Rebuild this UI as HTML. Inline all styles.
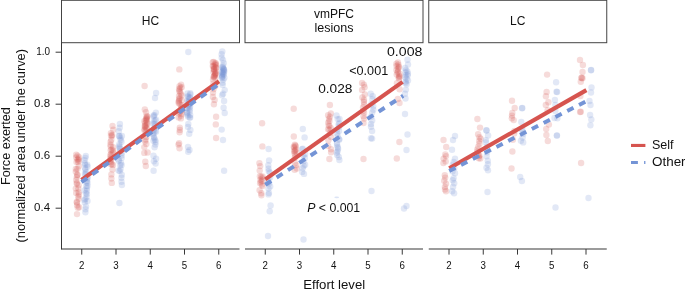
<!DOCTYPE html>
<html><head><meta charset="utf-8"><title>Effort</title>
<style>
html,body{margin:0;padding:0;background:#fff;}
body{width:685px;height:292px;overflow:hidden;}
svg{display:block;font-family:"Liberation Sans",sans-serif;}
.t{font-size:12px;fill:#111;}
.gs{filter:grayscale(1);}
.tk{font-size:10px;fill:#111;}
</style></head><body>
<svg width="685" height="292" viewBox="0 0 685 292">
<rect width="685" height="292" fill="#fff"/>
<g fill-opacity="0.21"><circle cx="112.2" cy="134.9" r="3.2" fill="#d6544f"/><circle cx="396.7" cy="74.6" r="3.2" fill="#d6544f"/><circle cx="223.9" cy="74.6" r="3.2" fill="#7494d6"/><circle cx="188.3" cy="96.9" r="3.2" fill="#7494d6"/><circle cx="181.1" cy="84.6" r="3.2" fill="#d6544f"/><circle cx="363.9" cy="84.6" r="3.2" fill="#d6544f"/><circle cx="153.7" cy="116.6" r="3.2" fill="#7494d6"/><circle cx="452.0" cy="149.8" r="3.2" fill="#7494d6"/><circle cx="121.6" cy="158.1" r="3.2" fill="#7494d6"/><circle cx="547.1" cy="74.6" r="3.2" fill="#d6544f"/><circle cx="477.4" cy="119.0" r="3.2" fill="#d6544f"/><circle cx="155.1" cy="131.1" r="3.2" fill="#7494d6"/><circle cx="330.8" cy="113.5" r="3.2" fill="#d6544f"/><circle cx="179.8" cy="104.1" r="3.2" fill="#d6544f"/><circle cx="224.2" cy="71.9" r="3.2" fill="#7494d6"/><circle cx="86.9" cy="194.1" r="3.2" fill="#7494d6"/><circle cx="120.6" cy="169.0" r="3.2" fill="#7494d6"/><circle cx="588.5" cy="198.0" r="3.2" fill="#7494d6"/><circle cx="581.1" cy="163.0" r="3.2" fill="#d6544f"/><circle cx="221.7" cy="129.6" r="3.2" fill="#7494d6"/><circle cx="221.8" cy="71.8" r="3.2" fill="#7494d6"/><circle cx="146.2" cy="136.9" r="3.2" fill="#d6544f"/><circle cx="405.0" cy="93.8" r="3.2" fill="#7494d6"/><circle cx="188.0" cy="127.0" r="3.2" fill="#7494d6"/><circle cx="87.6" cy="176.8" r="3.2" fill="#7494d6"/><circle cx="145.3" cy="125.7" r="3.2" fill="#d6544f"/><circle cx="111.3" cy="139.8" r="3.2" fill="#d6544f"/><circle cx="304.6" cy="137.4" r="3.2" fill="#7494d6"/><circle cx="407.5" cy="59.8" r="3.2" fill="#7494d6"/><circle cx="215.3" cy="63.0" r="3.2" fill="#d6544f"/><circle cx="293.7" cy="108.7" r="3.2" fill="#d6544f"/><circle cx="212.8" cy="65.9" r="3.2" fill="#d6544f"/><circle cx="212.9" cy="97.0" r="3.2" fill="#d6544f"/><circle cx="215.9" cy="71.2" r="3.2" fill="#d6544f"/><circle cx="189.2" cy="133.7" r="3.2" fill="#7494d6"/><circle cx="179.3" cy="69.4" r="3.2" fill="#d6544f"/><circle cx="514.7" cy="108.0" r="3.2" fill="#d6544f"/><circle cx="405.3" cy="77.3" r="3.2" fill="#7494d6"/><circle cx="78.8" cy="166.3" r="3.2" fill="#d6544f"/><circle cx="446.0" cy="191.3" r="3.2" fill="#d6544f"/><circle cx="179.8" cy="97.9" r="3.2" fill="#d6544f"/><circle cx="224.7" cy="90.1" r="3.2" fill="#7494d6"/><circle cx="221.9" cy="77.7" r="3.2" fill="#7494d6"/><circle cx="147.4" cy="123.6" r="3.2" fill="#d6544f"/><circle cx="303.5" cy="161.2" r="3.2" fill="#7494d6"/><circle cx="189.9" cy="97.2" r="3.2" fill="#7494d6"/><circle cx="405.9" cy="89.6" r="3.2" fill="#7494d6"/><circle cx="336.9" cy="129.8" r="3.2" fill="#7494d6"/><circle cx="222.0" cy="75.1" r="3.2" fill="#7494d6"/><circle cx="215.9" cy="63.7" r="3.2" fill="#d6544f"/><circle cx="84.8" cy="202.6" r="3.2" fill="#7494d6"/><circle cx="112.5" cy="125.9" r="3.2" fill="#d6544f"/><circle cx="86.5" cy="197.0" r="3.2" fill="#7494d6"/><circle cx="398.7" cy="77.4" r="3.2" fill="#d6544f"/><circle cx="486.3" cy="130.2" r="3.2" fill="#7494d6"/><circle cx="87.2" cy="164.8" r="3.2" fill="#7494d6"/><circle cx="179.9" cy="92.0" r="3.2" fill="#d6544f"/><circle cx="188.2" cy="151.8" r="3.2" fill="#7494d6"/><circle cx="372.1" cy="131.0" r="3.2" fill="#7494d6"/><circle cx="399.6" cy="89.2" r="3.2" fill="#d6544f"/><circle cx="338.5" cy="124.4" r="3.2" fill="#7494d6"/><circle cx="187.8" cy="105.3" r="3.2" fill="#7494d6"/><circle cx="337.7" cy="147.2" r="3.2" fill="#7494d6"/><circle cx="119.0" cy="136.1" r="3.2" fill="#7494d6"/><circle cx="337.0" cy="143.2" r="3.2" fill="#7494d6"/><circle cx="548.9" cy="124.6" r="3.2" fill="#d6544f"/><circle cx="554.9" cy="100.0" r="3.2" fill="#7494d6"/><circle cx="328.2" cy="122.6" r="3.2" fill="#d6544f"/><circle cx="331.0" cy="149.3" r="3.2" fill="#d6544f"/><circle cx="153.6" cy="133.4" r="3.2" fill="#7494d6"/><circle cx="331.1" cy="152.3" r="3.2" fill="#d6544f"/><circle cx="454.2" cy="183.2" r="3.2" fill="#7494d6"/><circle cx="480.6" cy="138.7" r="3.2" fill="#d6544f"/><circle cx="303.5" cy="155.6" r="3.2" fill="#7494d6"/><circle cx="406.6" cy="78.6" r="3.2" fill="#7494d6"/><circle cx="78.6" cy="192.3" r="3.2" fill="#d6544f"/><circle cx="85.3" cy="198.9" r="3.2" fill="#7494d6"/><circle cx="216.0" cy="67.6" r="3.2" fill="#d6544f"/><circle cx="547.6" cy="110.2" r="3.2" fill="#d6544f"/><circle cx="268.5" cy="168.7" r="3.2" fill="#7494d6"/><circle cx="486.6" cy="156.3" r="3.2" fill="#7494d6"/><circle cx="267.9" cy="182.8" r="3.2" fill="#7494d6"/><circle cx="294.8" cy="144.8" r="3.2" fill="#d6544f"/><circle cx="110.3" cy="160.5" r="3.2" fill="#d6544f"/><circle cx="443.4" cy="163.1" r="3.2" fill="#d6544f"/><circle cx="213.7" cy="62.0" r="3.2" fill="#d6544f"/><circle cx="146.0" cy="131.5" r="3.2" fill="#d6544f"/><circle cx="121.9" cy="185.0" r="3.2" fill="#7494d6"/><circle cx="155.9" cy="112.6" r="3.2" fill="#7494d6"/><circle cx="580.4" cy="96.0" r="3.2" fill="#d6544f"/><circle cx="189.5" cy="149.9" r="3.2" fill="#7494d6"/><circle cx="87.5" cy="200.9" r="3.2" fill="#7494d6"/><circle cx="452.5" cy="171.5" r="3.2" fill="#7494d6"/><circle cx="330.9" cy="128.3" r="3.2" fill="#d6544f"/><circle cx="76.2" cy="154.8" r="3.2" fill="#d6544f"/><circle cx="339.2" cy="139.8" r="3.2" fill="#7494d6"/><circle cx="304.0" cy="173.9" r="3.2" fill="#7494d6"/><circle cx="215.3" cy="73.5" r="3.2" fill="#d6544f"/><circle cx="224.2" cy="70.3" r="3.2" fill="#7494d6"/><circle cx="110.5" cy="144.8" r="3.2" fill="#d6544f"/><circle cx="523.3" cy="133.7" r="3.2" fill="#7494d6"/><circle cx="224.7" cy="113.0" r="3.2" fill="#7494d6"/><circle cx="111.9" cy="136.1" r="3.2" fill="#d6544f"/><circle cx="154.5" cy="115.1" r="3.2" fill="#7494d6"/><circle cx="295.7" cy="146.4" r="3.2" fill="#d6544f"/><circle cx="155.0" cy="98.0" r="3.2" fill="#7494d6"/><circle cx="328.4" cy="140.3" r="3.2" fill="#d6544f"/><circle cx="329.4" cy="159.0" r="3.2" fill="#d6544f"/><circle cx="110.5" cy="154.8" r="3.2" fill="#d6544f"/><circle cx="154.5" cy="124.0" r="3.2" fill="#7494d6"/><circle cx="76.2" cy="180.0" r="3.2" fill="#d6544f"/><circle cx="590.4" cy="125.3" r="3.2" fill="#7494d6"/><circle cx="111.4" cy="174.4" r="3.2" fill="#d6544f"/><circle cx="85.2" cy="168.2" r="3.2" fill="#7494d6"/><circle cx="397.5" cy="72.4" r="3.2" fill="#d6544f"/><circle cx="262.5" cy="185.9" r="3.2" fill="#d6544f"/><circle cx="589.5" cy="101.0" r="3.2" fill="#7494d6"/><circle cx="120.7" cy="139.9" r="3.2" fill="#7494d6"/><circle cx="260.8" cy="181.8" r="3.2" fill="#d6544f"/><circle cx="216.0" cy="64.9" r="3.2" fill="#d6544f"/><circle cx="78.8" cy="198.8" r="3.2" fill="#d6544f"/><circle cx="453.0" cy="140.0" r="3.2" fill="#7494d6"/><circle cx="363.5" cy="159.0" r="3.2" fill="#d6544f"/><circle cx="178.6" cy="117.4" r="3.2" fill="#d6544f"/><circle cx="512.0" cy="115.6" r="3.2" fill="#d6544f"/><circle cx="268.0" cy="236.0" r="3.2" fill="#7494d6"/><circle cx="268.3" cy="165.3" r="3.2" fill="#7494d6"/><circle cx="296.9" cy="168.5" r="3.2" fill="#d6544f"/><circle cx="155.6" cy="163.6" r="3.2" fill="#7494d6"/><circle cx="112.5" cy="169.4" r="3.2" fill="#d6544f"/><circle cx="305.1" cy="164.8" r="3.2" fill="#7494d6"/><circle cx="213.0" cy="79.5" r="3.2" fill="#d6544f"/><circle cx="77.4" cy="174.7" r="3.2" fill="#d6544f"/><circle cx="188.6" cy="99.2" r="3.2" fill="#7494d6"/><circle cx="213.9" cy="104.3" r="3.2" fill="#d6544f"/><circle cx="520.9" cy="140.7" r="3.2" fill="#7494d6"/><circle cx="259.9" cy="176.2" r="3.2" fill="#d6544f"/><circle cx="303.7" cy="165.9" r="3.2" fill="#7494d6"/><circle cx="371.2" cy="116.8" r="3.2" fill="#7494d6"/><circle cx="407.9" cy="73.8" r="3.2" fill="#7494d6"/><circle cx="329.9" cy="105.0" r="3.2" fill="#d6544f"/><circle cx="408.0" cy="64.5" r="3.2" fill="#7494d6"/><circle cx="259.6" cy="190.3" r="3.2" fill="#d6544f"/><circle cx="591.0" cy="92.5" r="3.2" fill="#7494d6"/><circle cx="371.0" cy="126.8" r="3.2" fill="#7494d6"/><circle cx="77.0" cy="214.1" r="3.2" fill="#d6544f"/><circle cx="120.0" cy="148.6" r="3.2" fill="#7494d6"/><circle cx="406.5" cy="206.0" r="3.2" fill="#7494d6"/><circle cx="269.7" cy="211.3" r="3.2" fill="#7494d6"/><circle cx="155.4" cy="144.6" r="3.2" fill="#7494d6"/><circle cx="268.5" cy="188.6" r="3.2" fill="#7494d6"/><circle cx="215.5" cy="74.0" r="3.2" fill="#d6544f"/><circle cx="146.5" cy="118.2" r="3.2" fill="#d6544f"/><circle cx="78.9" cy="194.5" r="3.2" fill="#d6544f"/><circle cx="214.6" cy="99.9" r="3.2" fill="#d6544f"/><circle cx="302.7" cy="168.3" r="3.2" fill="#7494d6"/><circle cx="363.4" cy="116.2" r="3.2" fill="#d6544f"/><circle cx="260.1" cy="183.2" r="3.2" fill="#d6544f"/><circle cx="78.1" cy="162.0" r="3.2" fill="#d6544f"/><circle cx="293.8" cy="146.7" r="3.2" fill="#d6544f"/><circle cx="87.4" cy="178.4" r="3.2" fill="#7494d6"/><circle cx="478.3" cy="146.7" r="3.2" fill="#d6544f"/><circle cx="455.0" cy="136.0" r="3.2" fill="#7494d6"/><circle cx="547.8" cy="141.0" r="3.2" fill="#d6544f"/><circle cx="214.2" cy="69.8" r="3.2" fill="#d6544f"/><circle cx="445.7" cy="161.4" r="3.2" fill="#d6544f"/><circle cx="398.0" cy="62.4" r="3.2" fill="#d6544f"/><circle cx="222.5" cy="82.8" r="3.2" fill="#7494d6"/><circle cx="269.9" cy="172.6" r="3.2" fill="#7494d6"/><circle cx="215.4" cy="77.8" r="3.2" fill="#d6544f"/><circle cx="259.7" cy="170.6" r="3.2" fill="#d6544f"/><circle cx="85.3" cy="169.6" r="3.2" fill="#7494d6"/><circle cx="444.9" cy="186.9" r="3.2" fill="#d6544f"/><circle cx="147.6" cy="152.5" r="3.2" fill="#d6544f"/><circle cx="146.4" cy="125.1" r="3.2" fill="#d6544f"/><circle cx="215.4" cy="74.8" r="3.2" fill="#d6544f"/><circle cx="146.6" cy="115.9" r="3.2" fill="#d6544f"/><circle cx="295.4" cy="145.5" r="3.2" fill="#d6544f"/><circle cx="222.2" cy="76.2" r="3.2" fill="#7494d6"/><circle cx="187.8" cy="96.1" r="3.2" fill="#7494d6"/><circle cx="399.5" cy="103.0" r="3.2" fill="#d6544f"/><circle cx="119.4" cy="203.0" r="3.2" fill="#7494d6"/><circle cx="486.2" cy="148.7" r="3.2" fill="#7494d6"/><circle cx="179.1" cy="89.2" r="3.2" fill="#d6544f"/><circle cx="513.7" cy="120.1" r="3.2" fill="#d6544f"/><circle cx="364.2" cy="118.6" r="3.2" fill="#d6544f"/><circle cx="187.2" cy="112.9" r="3.2" fill="#7494d6"/><circle cx="329.9" cy="116.8" r="3.2" fill="#d6544f"/><circle cx="555.4" cy="105.0" r="3.2" fill="#7494d6"/><circle cx="511.5" cy="168.5" r="3.2" fill="#d6544f"/><circle cx="79.1" cy="207.3" r="3.2" fill="#d6544f"/><circle cx="146.4" cy="127.7" r="3.2" fill="#d6544f"/><circle cx="521.9" cy="181.0" r="3.2" fill="#7494d6"/><circle cx="455.0" cy="173.3" r="3.2" fill="#7494d6"/><circle cx="216.1" cy="138.0" r="3.2" fill="#d6544f"/><circle cx="223.1" cy="93.7" r="3.2" fill="#7494d6"/><circle cx="75.8" cy="188.6" r="3.2" fill="#d6544f"/><circle cx="372.2" cy="112.4" r="3.2" fill="#7494d6"/><circle cx="260.5" cy="179.8" r="3.2" fill="#d6544f"/><circle cx="153.5" cy="140.7" r="3.2" fill="#7494d6"/><circle cx="362.1" cy="83.0" r="3.2" fill="#d6544f"/><circle cx="488.1" cy="135.4" r="3.2" fill="#7494d6"/><circle cx="111.7" cy="149.7" r="3.2" fill="#d6544f"/><circle cx="188.5" cy="108.4" r="3.2" fill="#7494d6"/><circle cx="178.7" cy="101.7" r="3.2" fill="#d6544f"/><circle cx="222.3" cy="72.5" r="3.2" fill="#7494d6"/><circle cx="372.7" cy="96.3" r="3.2" fill="#7494d6"/><circle cx="76.2" cy="192.9" r="3.2" fill="#d6544f"/><circle cx="372.2" cy="120.5" r="3.2" fill="#7494d6"/><circle cx="189.9" cy="98.2" r="3.2" fill="#7494d6"/><circle cx="155.2" cy="140.1" r="3.2" fill="#7494d6"/><circle cx="156.1" cy="93.0" r="3.2" fill="#7494d6"/><circle cx="523.2" cy="142.4" r="3.2" fill="#7494d6"/><circle cx="399.0" cy="78.4" r="3.2" fill="#d6544f"/><circle cx="405.0" cy="114.0" r="3.2" fill="#7494d6"/><circle cx="119.3" cy="144.2" r="3.2" fill="#7494d6"/><circle cx="364.8" cy="94.5" r="3.2" fill="#d6544f"/><circle cx="87.5" cy="166.8" r="3.2" fill="#7494d6"/><circle cx="582.5" cy="78.2" r="3.2" fill="#d6544f"/><circle cx="296.7" cy="152.5" r="3.2" fill="#d6544f"/><circle cx="213.4" cy="83.7" r="3.2" fill="#d6544f"/><circle cx="329.5" cy="126.1" r="3.2" fill="#d6544f"/><circle cx="521.6" cy="129.7" r="3.2" fill="#7494d6"/><circle cx="84.5" cy="200.1" r="3.2" fill="#7494d6"/><circle cx="514.2" cy="133.6" r="3.2" fill="#d6544f"/><circle cx="84.7" cy="163.4" r="3.2" fill="#7494d6"/><circle cx="556.5" cy="91.8" r="3.2" fill="#7494d6"/><circle cx="78.2" cy="196.4" r="3.2" fill="#d6544f"/><circle cx="224.1" cy="170.7" r="3.2" fill="#7494d6"/><circle cx="214.8" cy="75.4" r="3.2" fill="#d6544f"/><circle cx="337.7" cy="119.1" r="3.2" fill="#7494d6"/><circle cx="479.0" cy="156.0" r="3.2" fill="#d6544f"/><circle cx="76.8" cy="183.8" r="3.2" fill="#d6544f"/><circle cx="84.5" cy="190.5" r="3.2" fill="#7494d6"/><circle cx="398.4" cy="64.6" r="3.2" fill="#d6544f"/><circle cx="154.3" cy="128.6" r="3.2" fill="#7494d6"/><circle cx="76.2" cy="157.5" r="3.2" fill="#d6544f"/><circle cx="145.0" cy="141.3" r="3.2" fill="#d6544f"/><circle cx="446.0" cy="183.8" r="3.2" fill="#d6544f"/><circle cx="111.9" cy="164.3" r="3.2" fill="#d6544f"/><circle cx="181.0" cy="115.8" r="3.2" fill="#d6544f"/><circle cx="294.9" cy="150.1" r="3.2" fill="#d6544f"/><circle cx="213.0" cy="92.6" r="3.2" fill="#d6544f"/><circle cx="591.0" cy="70.3" r="3.2" fill="#7494d6"/><circle cx="444.2" cy="180.8" r="3.2" fill="#d6544f"/><circle cx="110.3" cy="158.6" r="3.2" fill="#d6544f"/><circle cx="188.7" cy="102.1" r="3.2" fill="#7494d6"/><circle cx="144.6" cy="129.1" r="3.2" fill="#d6544f"/><circle cx="406.0" cy="70.1" r="3.2" fill="#7494d6"/><circle cx="485.9" cy="140.1" r="3.2" fill="#7494d6"/><circle cx="77.3" cy="175.0" r="3.2" fill="#d6544f"/><circle cx="213.6" cy="89.1" r="3.2" fill="#d6544f"/><circle cx="222.3" cy="51.4" r="3.2" fill="#7494d6"/><circle cx="339.4" cy="123.1" r="3.2" fill="#7494d6"/><circle cx="512.4" cy="151.5" r="3.2" fill="#d6544f"/><circle cx="113.1" cy="150.6" r="3.2" fill="#d6544f"/><circle cx="153.6" cy="170.7" r="3.2" fill="#7494d6"/><circle cx="522.6" cy="137.5" r="3.2" fill="#7494d6"/><circle cx="405.4" cy="72.4" r="3.2" fill="#7494d6"/><circle cx="188.3" cy="123.9" r="3.2" fill="#7494d6"/><circle cx="188.0" cy="116.4" r="3.2" fill="#7494d6"/><circle cx="153.9" cy="121.2" r="3.2" fill="#7494d6"/><circle cx="336.5" cy="115.5" r="3.2" fill="#7494d6"/><circle cx="144.8" cy="109.5" r="3.2" fill="#d6544f"/><circle cx="153.9" cy="161.3" r="3.2" fill="#7494d6"/><circle cx="339.5" cy="118.9" r="3.2" fill="#7494d6"/><circle cx="453.6" cy="178.2" r="3.2" fill="#7494d6"/><circle cx="189.6" cy="117.4" r="3.2" fill="#7494d6"/><circle cx="119.7" cy="127.8" r="3.2" fill="#7494d6"/><circle cx="179.1" cy="143.2" r="3.2" fill="#d6544f"/><circle cx="487.1" cy="146.6" r="3.2" fill="#7494d6"/><circle cx="179.3" cy="90.8" r="3.2" fill="#d6544f"/><circle cx="452.8" cy="180.3" r="3.2" fill="#7494d6"/><circle cx="339.4" cy="160.0" r="3.2" fill="#7494d6"/><circle cx="153.5" cy="155.8" r="3.2" fill="#7494d6"/><circle cx="372.1" cy="138.6" r="3.2" fill="#7494d6"/><circle cx="405.6" cy="81.6" r="3.2" fill="#7494d6"/><circle cx="146.3" cy="143.9" r="3.2" fill="#d6544f"/><circle cx="554.5" cy="118.0" r="3.2" fill="#7494d6"/><circle cx="181.7" cy="113.7" r="3.2" fill="#d6544f"/><circle cx="222.8" cy="67.8" r="3.2" fill="#7494d6"/><circle cx="110.7" cy="146.5" r="3.2" fill="#d6544f"/><circle cx="120.2" cy="165.3" r="3.2" fill="#7494d6"/><circle cx="189.7" cy="111.4" r="3.2" fill="#7494d6"/><circle cx="557.4" cy="118.3" r="3.2" fill="#7494d6"/><circle cx="512.3" cy="113.0" r="3.2" fill="#d6544f"/><circle cx="113.3" cy="129.8" r="3.2" fill="#d6544f"/><circle cx="364.0" cy="99.8" r="3.2" fill="#d6544f"/><circle cx="121.8" cy="153.1" r="3.2" fill="#7494d6"/><circle cx="487.5" cy="192.0" r="3.2" fill="#7494d6"/><circle cx="222.2" cy="76.9" r="3.2" fill="#7494d6"/><circle cx="443.6" cy="158.6" r="3.2" fill="#d6544f"/><circle cx="214.4" cy="71.1" r="3.2" fill="#d6544f"/><circle cx="406.5" cy="150.0" r="3.2" fill="#7494d6"/><circle cx="405.8" cy="75.2" r="3.2" fill="#7494d6"/><circle cx="511.8" cy="118.3" r="3.2" fill="#d6544f"/><circle cx="331.0" cy="137.1" r="3.2" fill="#d6544f"/><circle cx="486.5" cy="167.7" r="3.2" fill="#7494d6"/><circle cx="398.0" cy="69.0" r="3.2" fill="#d6544f"/><circle cx="154.6" cy="147.2" r="3.2" fill="#7494d6"/><circle cx="294.9" cy="162.9" r="3.2" fill="#d6544f"/><circle cx="363.9" cy="101.7" r="3.2" fill="#d6544f"/><circle cx="85.3" cy="164.6" r="3.2" fill="#7494d6"/><circle cx="329.5" cy="120.9" r="3.2" fill="#d6544f"/><circle cx="479.5" cy="143.7" r="3.2" fill="#d6544f"/><circle cx="363.5" cy="123.1" r="3.2" fill="#d6544f"/><circle cx="181.7" cy="95.4" r="3.2" fill="#d6544f"/><circle cx="328.2" cy="145.9" r="3.2" fill="#d6544f"/><circle cx="146.7" cy="117.5" r="3.2" fill="#d6544f"/><circle cx="77.0" cy="202.4" r="3.2" fill="#d6544f"/><circle cx="156.1" cy="158.7" r="3.2" fill="#7494d6"/><circle cx="86.0" cy="206.5" r="3.2" fill="#7494d6"/><circle cx="214.4" cy="66.9" r="3.2" fill="#d6544f"/><circle cx="179.0" cy="100.7" r="3.2" fill="#d6544f"/><circle cx="119.9" cy="124.0" r="3.2" fill="#7494d6"/><circle cx="446.2" cy="147.0" r="3.2" fill="#d6544f"/><circle cx="330.5" cy="132.7" r="3.2" fill="#d6544f"/><circle cx="514.5" cy="130.9" r="3.2" fill="#d6544f"/><circle cx="546.4" cy="135.0" r="3.2" fill="#d6544f"/><circle cx="336.8" cy="152.5" r="3.2" fill="#7494d6"/><circle cx="181.7" cy="87.2" r="3.2" fill="#d6544f"/><circle cx="76.5" cy="161.9" r="3.2" fill="#d6544f"/><circle cx="486.6" cy="130.5" r="3.2" fill="#7494d6"/><circle cx="187.3" cy="114.5" r="3.2" fill="#7494d6"/><circle cx="119.5" cy="146.2" r="3.2" fill="#7494d6"/><circle cx="213.9" cy="76.3" r="3.2" fill="#d6544f"/><circle cx="268.7" cy="171.1" r="3.2" fill="#7494d6"/><circle cx="453.1" cy="186.9" r="3.2" fill="#7494d6"/><circle cx="86.2" cy="185.9" r="3.2" fill="#7494d6"/><circle cx="362.4" cy="97.4" r="3.2" fill="#d6544f"/><circle cx="268.6" cy="149.0" r="3.2" fill="#7494d6"/><circle cx="488.0" cy="170.2" r="3.2" fill="#7494d6"/><circle cx="338.1" cy="148.8" r="3.2" fill="#7494d6"/><circle cx="118.7" cy="159.4" r="3.2" fill="#7494d6"/><circle cx="213.8" cy="76.4" r="3.2" fill="#d6544f"/><circle cx="546.6" cy="91.9" r="3.2" fill="#d6544f"/><circle cx="78.6" cy="185.3" r="3.2" fill="#d6544f"/><circle cx="329.4" cy="129.6" r="3.2" fill="#d6544f"/><circle cx="190.4" cy="129.9" r="3.2" fill="#7494d6"/><circle cx="181.8" cy="100.3" r="3.2" fill="#d6544f"/><circle cx="77.5" cy="159.8" r="3.2" fill="#d6544f"/><circle cx="337.1" cy="145.1" r="3.2" fill="#7494d6"/><circle cx="261.2" cy="176.7" r="3.2" fill="#d6544f"/><circle cx="452.2" cy="191.3" r="3.2" fill="#7494d6"/><circle cx="371.5" cy="191.0" r="3.2" fill="#7494d6"/><circle cx="261.4" cy="195.2" r="3.2" fill="#d6544f"/><circle cx="216.0" cy="67.8" r="3.2" fill="#d6544f"/><circle cx="487.8" cy="160.7" r="3.2" fill="#7494d6"/><circle cx="222.7" cy="84.9" r="3.2" fill="#7494d6"/><circle cx="77.4" cy="169.0" r="3.2" fill="#d6544f"/><circle cx="190.2" cy="104.1" r="3.2" fill="#7494d6"/><circle cx="190.2" cy="117.6" r="3.2" fill="#7494d6"/><circle cx="445.3" cy="154.4" r="3.2" fill="#d6544f"/><circle cx="147.5" cy="116.6" r="3.2" fill="#d6544f"/><circle cx="111.5" cy="153.5" r="3.2" fill="#d6544f"/><circle cx="477.8" cy="154.3" r="3.2" fill="#d6544f"/><circle cx="557.1" cy="92.0" r="3.2" fill="#7494d6"/><circle cx="302.8" cy="148.6" r="3.2" fill="#7494d6"/><circle cx="180.8" cy="118.4" r="3.2" fill="#d6544f"/><circle cx="87.5" cy="186.0" r="3.2" fill="#7494d6"/><circle cx="521.3" cy="122.0" r="3.2" fill="#7494d6"/><circle cx="222.1" cy="95.3" r="3.2" fill="#7494d6"/><circle cx="146.1" cy="120.4" r="3.2" fill="#d6544f"/><circle cx="153.6" cy="115.4" r="3.2" fill="#7494d6"/><circle cx="454.1" cy="193.3" r="3.2" fill="#7494d6"/><circle cx="188.4" cy="102.3" r="3.2" fill="#7494d6"/><circle cx="85.5" cy="209.2" r="3.2" fill="#7494d6"/><circle cx="339.2" cy="139.1" r="3.2" fill="#7494d6"/><circle cx="111.4" cy="178.5" r="3.2" fill="#d6544f"/><circle cx="269.1" cy="160.5" r="3.2" fill="#7494d6"/><circle cx="581.6" cy="78.0" r="3.2" fill="#d6544f"/><circle cx="222.1" cy="67.3" r="3.2" fill="#7494d6"/><circle cx="302.8" cy="129.0" r="3.2" fill="#7494d6"/><circle cx="478.7" cy="158.2" r="3.2" fill="#d6544f"/><circle cx="443.5" cy="140.0" r="3.2" fill="#d6544f"/><circle cx="294.1" cy="147.6" r="3.2" fill="#d6544f"/><circle cx="261.9" cy="184.5" r="3.2" fill="#d6544f"/><circle cx="118.6" cy="170.6" r="3.2" fill="#7494d6"/><circle cx="179.8" cy="127.6" r="3.2" fill="#d6544f"/><circle cx="260.2" cy="166.1" r="3.2" fill="#d6544f"/><circle cx="223.5" cy="68.6" r="3.2" fill="#7494d6"/><circle cx="221.6" cy="54.3" r="3.2" fill="#7494d6"/><circle cx="268.9" cy="193.0" r="3.2" fill="#7494d6"/><circle cx="179.5" cy="148.2" r="3.2" fill="#d6544f"/><circle cx="144.6" cy="86.0" r="3.2" fill="#d6544f"/><circle cx="370.9" cy="138.3" r="3.2" fill="#7494d6"/><circle cx="79.0" cy="157.2" r="3.2" fill="#d6544f"/><circle cx="591.1" cy="70.0" r="3.2" fill="#7494d6"/><circle cx="294.7" cy="157.9" r="3.2" fill="#d6544f"/><circle cx="399.5" cy="73.7" r="3.2" fill="#d6544f"/><circle cx="373.3" cy="109.8" r="3.2" fill="#7494d6"/><circle cx="110.6" cy="141.8" r="3.2" fill="#d6544f"/><circle cx="75.8" cy="169.0" r="3.2" fill="#d6544f"/><circle cx="328.7" cy="125.3" r="3.2" fill="#d6544f"/><circle cx="144.3" cy="147.1" r="3.2" fill="#d6544f"/><circle cx="223.6" cy="107.7" r="3.2" fill="#7494d6"/><circle cx="405.1" cy="67.9" r="3.2" fill="#7494d6"/><circle cx="121.0" cy="162.9" r="3.2" fill="#7494d6"/><circle cx="445.0" cy="189.5" r="3.2" fill="#d6544f"/><circle cx="187.5" cy="93.4" r="3.2" fill="#7494d6"/><circle cx="522.0" cy="108.3" r="3.2" fill="#7494d6"/><circle cx="556.8" cy="135.6" r="3.2" fill="#7494d6"/><circle cx="407.5" cy="134.5" r="3.2" fill="#7494d6"/><circle cx="407.4" cy="71.5" r="3.2" fill="#7494d6"/><circle cx="179.2" cy="99.2" r="3.2" fill="#d6544f"/><circle cx="407.6" cy="75.4" r="3.2" fill="#7494d6"/><circle cx="146.6" cy="128.5" r="3.2" fill="#d6544f"/><circle cx="86.8" cy="191.0" r="3.2" fill="#7494d6"/><circle cx="487.1" cy="152.3" r="3.2" fill="#7494d6"/><circle cx="454.3" cy="167.9" r="3.2" fill="#7494d6"/><circle cx="339.2" cy="126.7" r="3.2" fill="#7494d6"/><circle cx="144.7" cy="126.0" r="3.2" fill="#d6544f"/><circle cx="591.3" cy="119.4" r="3.2" fill="#7494d6"/><circle cx="144.3" cy="152.9" r="3.2" fill="#d6544f"/><circle cx="294.6" cy="153.5" r="3.2" fill="#d6544f"/><circle cx="363.0" cy="107.4" r="3.2" fill="#d6544f"/><circle cx="328.1" cy="129.3" r="3.2" fill="#d6544f"/><circle cx="113.1" cy="147.3" r="3.2" fill="#d6544f"/><circle cx="110.7" cy="150.3" r="3.2" fill="#d6544f"/><circle cx="580.8" cy="111.8" r="3.2" fill="#d6544f"/><circle cx="479.4" cy="137.3" r="3.2" fill="#d6544f"/><circle cx="337.7" cy="136.1" r="3.2" fill="#7494d6"/><circle cx="580.8" cy="81.8" r="3.2" fill="#d6544f"/><circle cx="111.2" cy="158.9" r="3.2" fill="#d6544f"/><circle cx="86.8" cy="188.2" r="3.2" fill="#7494d6"/><circle cx="294.5" cy="151.5" r="3.2" fill="#d6544f"/><circle cx="145.8" cy="119.7" r="3.2" fill="#d6544f"/><circle cx="118.8" cy="131.2" r="3.2" fill="#7494d6"/><circle cx="338.8" cy="157.0" r="3.2" fill="#7494d6"/><circle cx="121.4" cy="177.7" r="3.2" fill="#7494d6"/><circle cx="479.3" cy="155.4" r="3.2" fill="#d6544f"/><circle cx="396.4" cy="69.9" r="3.2" fill="#d6544f"/><circle cx="398.7" cy="66.6" r="3.2" fill="#d6544f"/><circle cx="223.3" cy="73.4" r="3.2" fill="#7494d6"/><circle cx="398.9" cy="67.6" r="3.2" fill="#d6544f"/><circle cx="364.6" cy="87.2" r="3.2" fill="#d6544f"/><circle cx="146.0" cy="112.3" r="3.2" fill="#d6544f"/><circle cx="362.1" cy="89.9" r="3.2" fill="#d6544f"/><circle cx="295.9" cy="149.5" r="3.2" fill="#d6544f"/><circle cx="396.5" cy="66.0" r="3.2" fill="#d6544f"/><circle cx="223.3" cy="79.5" r="3.2" fill="#7494d6"/><circle cx="396.4" cy="63.7" r="3.2" fill="#d6544f"/><circle cx="337.1" cy="133.5" r="3.2" fill="#7494d6"/><circle cx="270.6" cy="205.4" r="3.2" fill="#7494d6"/><circle cx="480.0" cy="127.6" r="3.2" fill="#d6544f"/><circle cx="145.3" cy="161.7" r="3.2" fill="#d6544f"/><circle cx="145.0" cy="123.1" r="3.2" fill="#d6544f"/><circle cx="121.9" cy="136.0" r="3.2" fill="#7494d6"/><circle cx="214.9" cy="64.6" r="3.2" fill="#d6544f"/><circle cx="121.5" cy="181.8" r="3.2" fill="#7494d6"/><circle cx="453.7" cy="161.9" r="3.2" fill="#7494d6"/><circle cx="262.4" cy="146.4" r="3.2" fill="#d6544f"/><circle cx="190.1" cy="106.6" r="3.2" fill="#7494d6"/><circle cx="156.0" cy="131.8" r="3.2" fill="#7494d6"/><circle cx="397.9" cy="99.0" r="3.2" fill="#d6544f"/><circle cx="119.9" cy="170.9" r="3.2" fill="#7494d6"/><circle cx="223.8" cy="63.2" r="3.2" fill="#7494d6"/><circle cx="146.9" cy="119.2" r="3.2" fill="#d6544f"/><circle cx="303.5" cy="239.5" r="3.2" fill="#7494d6"/><circle cx="399.2" cy="75.7" r="3.2" fill="#d6544f"/><circle cx="190.4" cy="94.4" r="3.2" fill="#7494d6"/><circle cx="590.5" cy="105.0" r="3.2" fill="#7494d6"/><circle cx="110.8" cy="162.1" r="3.2" fill="#d6544f"/><circle cx="545.9" cy="96.2" r="3.2" fill="#d6544f"/><circle cx="296.4" cy="165.1" r="3.2" fill="#d6544f"/><circle cx="215.3" cy="86.0" r="3.2" fill="#d6544f"/><circle cx="262.2" cy="180.8" r="3.2" fill="#d6544f"/><circle cx="187.3" cy="101.2" r="3.2" fill="#7494d6"/><circle cx="337.7" cy="150.9" r="3.2" fill="#7494d6"/><circle cx="364.1" cy="104.4" r="3.2" fill="#d6544f"/><circle cx="556.1" cy="82.3" r="3.2" fill="#7494d6"/><circle cx="485.9" cy="142.5" r="3.2" fill="#7494d6"/><circle cx="155.1" cy="126.3" r="3.2" fill="#7494d6"/><circle cx="222.9" cy="65.9" r="3.2" fill="#7494d6"/><circle cx="155.6" cy="142.0" r="3.2" fill="#7494d6"/><circle cx="76.9" cy="182.7" r="3.2" fill="#d6544f"/><circle cx="408.0" cy="80.4" r="3.2" fill="#7494d6"/><circle cx="222.6" cy="73.8" r="3.2" fill="#7494d6"/><circle cx="302.1" cy="149.3" r="3.2" fill="#7494d6"/><circle cx="270.1" cy="177.5" r="3.2" fill="#7494d6"/><circle cx="305.2" cy="153.9" r="3.2" fill="#7494d6"/><circle cx="223.6" cy="71.2" r="3.2" fill="#7494d6"/><circle cx="215.5" cy="73.0" r="3.2" fill="#d6544f"/><circle cx="85.4" cy="212.2" r="3.2" fill="#7494d6"/><circle cx="188.3" cy="106.0" r="3.2" fill="#7494d6"/><circle cx="580.0" cy="60.0" r="3.2" fill="#d6544f"/><circle cx="121.8" cy="174.7" r="3.2" fill="#7494d6"/><circle cx="224.1" cy="101.0" r="3.2" fill="#7494d6"/><circle cx="370.7" cy="93.8" r="3.2" fill="#7494d6"/><circle cx="180.8" cy="93.8" r="3.2" fill="#d6544f"/><circle cx="590.1" cy="115.0" r="3.2" fill="#7494d6"/><circle cx="212.8" cy="62.2" r="3.2" fill="#d6544f"/><circle cx="214.0" cy="77.4" r="3.2" fill="#d6544f"/><circle cx="371.0" cy="124.0" r="3.2" fill="#7494d6"/><circle cx="445.2" cy="177.6" r="3.2" fill="#d6544f"/><circle cx="144.4" cy="121.3" r="3.2" fill="#d6544f"/><circle cx="145.8" cy="166.0" r="3.2" fill="#d6544f"/><circle cx="119.4" cy="147.4" r="3.2" fill="#7494d6"/><circle cx="180.2" cy="88.0" r="3.2" fill="#d6544f"/><circle cx="75.8" cy="171.8" r="3.2" fill="#d6544f"/><circle cx="259.4" cy="163.1" r="3.2" fill="#d6544f"/><circle cx="372.3" cy="99.1" r="3.2" fill="#7494d6"/><circle cx="179.8" cy="129.9" r="3.2" fill="#d6544f"/><circle cx="85.6" cy="174.5" r="3.2" fill="#7494d6"/><circle cx="294.7" cy="169.7" r="3.2" fill="#d6544f"/><circle cx="371.4" cy="104.3" r="3.2" fill="#7494d6"/><circle cx="373.2" cy="106.2" r="3.2" fill="#7494d6"/><circle cx="178.7" cy="102.9" r="3.2" fill="#d6544f"/><circle cx="398.0" cy="71.4" r="3.2" fill="#d6544f"/><circle cx="181.5" cy="107.2" r="3.2" fill="#d6544f"/><circle cx="86.5" cy="182.1" r="3.2" fill="#7494d6"/><circle cx="293.8" cy="136.5" r="3.2" fill="#d6544f"/><circle cx="580.1" cy="112.0" r="3.2" fill="#d6544f"/><circle cx="120.1" cy="151.4" r="3.2" fill="#7494d6"/><circle cx="455.0" cy="158.7" r="3.2" fill="#7494d6"/><circle cx="110.7" cy="156.1" r="3.2" fill="#d6544f"/><circle cx="118.7" cy="160.8" r="3.2" fill="#7494d6"/><circle cx="153.7" cy="129.9" r="3.2" fill="#7494d6"/><circle cx="404.0" cy="208.5" r="3.2" fill="#7494d6"/><circle cx="187.2" cy="107.9" r="3.2" fill="#7494d6"/><circle cx="178.5" cy="144.6" r="3.2" fill="#d6544f"/><circle cx="215.8" cy="124.4" r="3.2" fill="#d6544f"/><circle cx="156.1" cy="119.7" r="3.2" fill="#7494d6"/><circle cx="591.5" cy="87.4" r="3.2" fill="#7494d6"/><circle cx="555.5" cy="207.5" r="3.2" fill="#7494d6"/><circle cx="405.5" cy="98.5" r="3.2" fill="#7494d6"/><circle cx="179.5" cy="86.2" r="3.2" fill="#d6544f"/><circle cx="406.6" cy="84.2" r="3.2" fill="#7494d6"/><circle cx="119.5" cy="135.9" r="3.2" fill="#7494d6"/><circle cx="405.7" cy="82.9" r="3.2" fill="#7494d6"/><circle cx="270.2" cy="186.4" r="3.2" fill="#7494d6"/><circle cx="78.5" cy="159.0" r="3.2" fill="#d6544f"/><circle cx="85.9" cy="193.3" r="3.2" fill="#7494d6"/><circle cx="223.0" cy="60.0" r="3.2" fill="#7494d6"/><circle cx="181.0" cy="108.8" r="3.2" fill="#d6544f"/><circle cx="77.5" cy="155.6" r="3.2" fill="#d6544f"/><circle cx="522.3" cy="108.0" r="3.2" fill="#7494d6"/><circle cx="154.0" cy="137.1" r="3.2" fill="#7494d6"/><circle cx="477.4" cy="151.7" r="3.2" fill="#d6544f"/><circle cx="111.8" cy="182.9" r="3.2" fill="#d6544f"/><circle cx="188.3" cy="52.0" r="3.2" fill="#7494d6"/><circle cx="480.3" cy="158.5" r="3.2" fill="#d6544f"/><circle cx="582.9" cy="65.0" r="3.2" fill="#d6544f"/><circle cx="269.0" cy="183.4" r="3.2" fill="#7494d6"/><circle cx="487.9" cy="164.2" r="3.2" fill="#7494d6"/><circle cx="452.9" cy="164.6" r="3.2" fill="#7494d6"/><circle cx="363.4" cy="110.6" r="3.2" fill="#d6544f"/><circle cx="581.5" cy="77.8" r="3.2" fill="#d6544f"/><circle cx="339.0" cy="131.0" r="3.2" fill="#7494d6"/><circle cx="520.2" cy="177.0" r="3.2" fill="#7494d6"/><circle cx="512.0" cy="100.8" r="3.2" fill="#d6544f"/><circle cx="399.4" cy="142.0" r="3.2" fill="#d6544f"/><circle cx="446.0" cy="156.1" r="3.2" fill="#d6544f"/><circle cx="262.1" cy="123.3" r="3.2" fill="#d6544f"/><circle cx="295.4" cy="155.8" r="3.2" fill="#d6544f"/><circle cx="87.5" cy="182.9" r="3.2" fill="#7494d6"/><circle cx="216.1" cy="116.7" r="3.2" fill="#d6544f"/><circle cx="213.5" cy="66.3" r="3.2" fill="#d6544f"/><circle cx="268.5" cy="194.4" r="3.2" fill="#7494d6"/><circle cx="78.3" cy="188.4" r="3.2" fill="#d6544f"/><circle cx="213.6" cy="69.3" r="3.2" fill="#d6544f"/><circle cx="337.2" cy="154.9" r="3.2" fill="#7494d6"/><circle cx="261.3" cy="193.2" r="3.2" fill="#d6544f"/><circle cx="223.0" cy="140.0" r="3.2" fill="#7494d6"/><circle cx="223.6" cy="69.3" r="3.2" fill="#7494d6"/><circle cx="179.6" cy="112.1" r="3.2" fill="#d6544f"/><circle cx="120.3" cy="138.0" r="3.2" fill="#7494d6"/><circle cx="146.9" cy="122.1" r="3.2" fill="#d6544f"/><circle cx="121.5" cy="141.8" r="3.2" fill="#7494d6"/><circle cx="396.8" cy="158.5" r="3.2" fill="#d6544f"/><circle cx="221.7" cy="57.7" r="3.2" fill="#7494d6"/><circle cx="113.0" cy="164.9" r="3.2" fill="#d6544f"/><circle cx="84.5" cy="160.3" r="3.2" fill="#7494d6"/><circle cx="85.3" cy="157.9" r="3.2" fill="#7494d6"/><circle cx="545.8" cy="104.9" r="3.2" fill="#d6544f"/><circle cx="181.7" cy="110.6" r="3.2" fill="#d6544f"/><circle cx="179.1" cy="113.6" r="3.2" fill="#d6544f"/><circle cx="188.0" cy="146.9" r="3.2" fill="#7494d6"/><circle cx="548.4" cy="102.3" r="3.2" fill="#d6544f"/><circle cx="302.2" cy="171.9" r="3.2" fill="#7494d6"/><circle cx="555.4" cy="111.0" r="3.2" fill="#7494d6"/><circle cx="479.2" cy="140.9" r="3.2" fill="#d6544f"/><circle cx="181.6" cy="105.3" r="3.2" fill="#d6544f"/><circle cx="294.5" cy="151.2" r="3.2" fill="#d6544f"/><circle cx="110.9" cy="133.1" r="3.2" fill="#d6544f"/><circle cx="87.1" cy="180.8" r="3.2" fill="#7494d6"/><circle cx="111.0" cy="135.4" r="3.2" fill="#d6544f"/><circle cx="85.0" cy="173.7" r="3.2" fill="#7494d6"/><circle cx="145.1" cy="126.9" r="3.2" fill="#d6544f"/><circle cx="86.1" cy="172.3" r="3.2" fill="#7494d6"/><circle cx="77.8" cy="207.7" r="3.2" fill="#d6544f"/><circle cx="77.1" cy="205.2" r="3.2" fill="#d6544f"/><circle cx="144.5" cy="130.5" r="3.2" fill="#d6544f"/><circle cx="268.5" cy="179.7" r="3.2" fill="#7494d6"/><circle cx="152.9" cy="123.4" r="3.2" fill="#7494d6"/><circle cx="121.5" cy="155.4" r="3.2" fill="#7494d6"/><circle cx="121.6" cy="164.9" r="3.2" fill="#7494d6"/><circle cx="557.0" cy="135.4" r="3.2" fill="#7494d6"/><circle cx="85.8" cy="156.0" r="3.2" fill="#7494d6"/><circle cx="145.6" cy="139.6" r="3.2" fill="#d6544f"/><circle cx="154.3" cy="138.2" r="3.2" fill="#7494d6"/><circle cx="512.9" cy="139.8" r="3.2" fill="#d6544f"/><circle cx="113.4" cy="152.7" r="3.2" fill="#d6544f"/><circle cx="546.2" cy="129.0" r="3.2" fill="#d6544f"/><circle cx="329.0" cy="118.9" r="3.2" fill="#d6544f"/><circle cx="179.6" cy="132.2" r="3.2" fill="#d6544f"/><circle cx="224.4" cy="77.7" r="3.2" fill="#7494d6"/><circle cx="522.3" cy="129.0" r="3.2" fill="#7494d6"/><circle cx="189.9" cy="109.2" r="3.2" fill="#7494d6"/><circle cx="364.0" cy="112.7" r="3.2" fill="#d6544f"/><circle cx="76.7" cy="201.9" r="3.2" fill="#d6544f"/><circle cx="78.8" cy="160.5" r="3.2" fill="#d6544f"/><circle cx="478.1" cy="134.2" r="3.2" fill="#d6544f"/><circle cx="396.9" cy="83.2" r="3.2" fill="#d6544f"/><circle cx="399.6" cy="77.0" r="3.2" fill="#d6544f"/><circle cx="477.3" cy="149.5" r="3.2" fill="#d6544f"/><circle cx="304.9" cy="158.0" r="3.2" fill="#7494d6"/><circle cx="190.2" cy="114.9" r="3.2" fill="#7494d6"/><circle cx="582.5" cy="72.0" r="3.2" fill="#d6544f"/><circle cx="262.4" cy="178.4" r="3.2" fill="#d6544f"/><circle cx="328.1" cy="115.3" r="3.2" fill="#d6544f"/><circle cx="179.0" cy="95.9" r="3.2" fill="#d6544f"/><circle cx="262.6" cy="176.5" r="3.2" fill="#d6544f"/><circle cx="155.2" cy="120.4" r="3.2" fill="#7494d6"/><circle cx="181.9" cy="109.9" r="3.2" fill="#d6544f"/><circle cx="187.2" cy="112.1" r="3.2" fill="#7494d6"/><circle cx="214.1" cy="68.8" r="3.2" fill="#d6544f"/><circle cx="153.0" cy="134.6" r="3.2" fill="#7494d6"/><circle cx="76.8" cy="177.1" r="3.2" fill="#d6544f"/><circle cx="444.8" cy="175.3" r="3.2" fill="#d6544f"/><circle cx="110.9" cy="164.2" r="3.2" fill="#d6544f"/><circle cx="190.3" cy="93.1" r="3.2" fill="#7494d6"/><circle cx="223.9" cy="69.4" r="3.2" fill="#7494d6"/><circle cx="213.4" cy="72.1" r="3.2" fill="#d6544f"/></g>
<line x1="81.5" y1="179.9" x2="219" y2="81.3" stroke="#d6544f" stroke-width="4.2"/><line x1="81.5" y1="182.2" x2="219" y2="84.0" stroke="#7494d6" stroke-width="4.0" stroke-dasharray="7 6.3"/><line x1="265.25" y1="179.4" x2="402.6" y2="81.9" stroke="#d6544f" stroke-width="4.2"/><line x1="265.25" y1="184.8" x2="403.2" y2="95.8" stroke="#7494d6" stroke-width="4.0" stroke-dasharray="7.1 6.4"/><line x1="449.25" y1="168.3" x2="586.4" y2="90.1" stroke="#d6544f" stroke-width="4.2"/><line x1="449.25" y1="171" x2="586.4" y2="101.2" stroke="#7494d6" stroke-width="4.0" stroke-dasharray="7 6.24"/>
<line x1="631" y1="145.45" x2="645.4" y2="145.45" stroke="#d6544f" stroke-width="3.1"/><line x1="631" y1="162.45" x2="645.4" y2="162.45" stroke="#7494d6" stroke-width="3.1" stroke-dasharray="6.9 6.2"/>
<ellipse cx="336.7" cy="197.3" rx="2.4" ry="0.9" fill="#7494d6" fill-opacity="0.25"/>
<g class="gs"><rect x="61.5" y="0.3" width="178" height="42.4" fill="#fff" stroke="#444" stroke-width="1"/><line x1="61.5" y1="249" x2="239.5" y2="249" stroke="#383838" stroke-width="1.1"/><line x1="81.75" y1="249" x2="81.75" y2="254.6" stroke="#383838" stroke-width="1"/><text x="81.75" y="268.6" class="tk" text-anchor="middle" textLength="5.4" lengthAdjust="spacingAndGlyphs">2</text><line x1="116.0" y1="249" x2="116.0" y2="254.6" stroke="#383838" stroke-width="1"/><text x="116.0" y="268.6" class="tk" text-anchor="middle" textLength="5.4" lengthAdjust="spacingAndGlyphs">3</text><line x1="150.25" y1="249" x2="150.25" y2="254.6" stroke="#383838" stroke-width="1"/><text x="150.25" y="268.6" class="tk" text-anchor="middle" textLength="5.4" lengthAdjust="spacingAndGlyphs">4</text><line x1="184.5" y1="249" x2="184.5" y2="254.6" stroke="#383838" stroke-width="1"/><text x="184.5" y="268.6" class="tk" text-anchor="middle" textLength="5.4" lengthAdjust="spacingAndGlyphs">5</text><line x1="218.75" y1="249" x2="218.75" y2="254.6" stroke="#383838" stroke-width="1"/><text x="218.75" y="268.6" class="tk" text-anchor="middle" textLength="5.4" lengthAdjust="spacingAndGlyphs">6</text><text x="150.5" y="24.7" class="t" text-anchor="middle">HC</text><rect x="245.0" y="0.3" width="178" height="42.4" fill="#fff" stroke="#444" stroke-width="1"/><line x1="245.0" y1="249" x2="423.0" y2="249" stroke="#383838" stroke-width="1.1"/><line x1="265.25" y1="249" x2="265.25" y2="254.6" stroke="#383838" stroke-width="1"/><text x="265.25" y="268.6" class="tk" text-anchor="middle" textLength="5.4" lengthAdjust="spacingAndGlyphs">2</text><line x1="299.5" y1="249" x2="299.5" y2="254.6" stroke="#383838" stroke-width="1"/><text x="299.5" y="268.6" class="tk" text-anchor="middle" textLength="5.4" lengthAdjust="spacingAndGlyphs">3</text><line x1="333.75" y1="249" x2="333.75" y2="254.6" stroke="#383838" stroke-width="1"/><text x="333.75" y="268.6" class="tk" text-anchor="middle" textLength="5.4" lengthAdjust="spacingAndGlyphs">4</text><line x1="368.0" y1="249" x2="368.0" y2="254.6" stroke="#383838" stroke-width="1"/><text x="368.0" y="268.6" class="tk" text-anchor="middle" textLength="5.4" lengthAdjust="spacingAndGlyphs">5</text><line x1="402.25" y1="249" x2="402.25" y2="254.6" stroke="#383838" stroke-width="1"/><text x="402.25" y="268.6" class="tk" text-anchor="middle" textLength="5.4" lengthAdjust="spacingAndGlyphs">6</text><text x="334.0" y="18.1" class="t" text-anchor="middle" textLength="40" lengthAdjust="spacingAndGlyphs">vmPFC</text><text x="334.0" y="32.2" class="t" text-anchor="middle" textLength="39" lengthAdjust="spacingAndGlyphs">lesions</text><rect x="428.75" y="0.3" width="178" height="42.4" fill="#fff" stroke="#444" stroke-width="1"/><line x1="428.75" y1="249" x2="606.75" y2="249" stroke="#383838" stroke-width="1.1"/><line x1="449.0" y1="249" x2="449.0" y2="254.6" stroke="#383838" stroke-width="1"/><text x="449.0" y="268.6" class="tk" text-anchor="middle" textLength="5.4" lengthAdjust="spacingAndGlyphs">2</text><line x1="483.25" y1="249" x2="483.25" y2="254.6" stroke="#383838" stroke-width="1"/><text x="483.25" y="268.6" class="tk" text-anchor="middle" textLength="5.4" lengthAdjust="spacingAndGlyphs">3</text><line x1="517.5" y1="249" x2="517.5" y2="254.6" stroke="#383838" stroke-width="1"/><text x="517.5" y="268.6" class="tk" text-anchor="middle" textLength="5.4" lengthAdjust="spacingAndGlyphs">4</text><line x1="551.75" y1="249" x2="551.75" y2="254.6" stroke="#383838" stroke-width="1"/><text x="551.75" y="268.6" class="tk" text-anchor="middle" textLength="5.4" lengthAdjust="spacingAndGlyphs">5</text><line x1="586.0" y1="249" x2="586.0" y2="254.6" stroke="#383838" stroke-width="1"/><text x="586.0" y="268.6" class="tk" text-anchor="middle" textLength="5.4" lengthAdjust="spacingAndGlyphs">6</text><text x="517.75" y="24.7" class="t" text-anchor="middle">LC</text><line x1="61.5" y1="42.5" x2="61.5" y2="249.5" stroke="#383838" stroke-width="1"/><line x1="55.6" y1="52.2" x2="61.5" y2="52.2" stroke="#383838" stroke-width="1"/><text x="50.1" y="54.8" class="tk" text-anchor="end" textLength="13.8" lengthAdjust="spacingAndGlyphs">1.0</text><line x1="55.6" y1="104.2" x2="61.5" y2="104.2" stroke="#383838" stroke-width="1"/><text x="50.1" y="106.8" class="tk" text-anchor="end" textLength="16.0" lengthAdjust="spacingAndGlyphs">0.8</text><line x1="55.6" y1="156.2" x2="61.5" y2="156.2" stroke="#383838" stroke-width="1"/><text x="50.1" y="158.8" class="tk" text-anchor="end" textLength="16.0" lengthAdjust="spacingAndGlyphs">0.6</text><line x1="55.6" y1="208.2" x2="61.5" y2="208.2" stroke="#383838" stroke-width="1"/><text x="50.1" y="210.8" class="tk" text-anchor="end" textLength="16.0" lengthAdjust="spacingAndGlyphs">0.4</text>
<text transform="translate(10.3,146.2) rotate(-90)" class="t" text-anchor="middle" textLength="77.7" lengthAdjust="spacingAndGlyphs">Force exerted</text><text transform="translate(25,145.7) rotate(-90)" class="t" text-anchor="middle" textLength="193.5" lengthAdjust="spacingAndGlyphs">(normalized area under the curve)</text><text x="303.2" y="288.7" class="t" textLength="62" lengthAdjust="spacingAndGlyphs">Effort level</text><text x="387" y="56.4" class="t" textLength="35.4" lengthAdjust="spacingAndGlyphs">0.008</text><text x="349.2" y="74.8" class="t" textLength="39" lengthAdjust="spacingAndGlyphs">&lt;0.001</text><text x="318.2" y="92.8" class="t" textLength="34.2" lengthAdjust="spacingAndGlyphs">0.028</text><text x="307.2" y="212" class="t" textLength="53" lengthAdjust="spacingAndGlyphs"><tspan font-style="italic">P</tspan> &lt; 0.001</text><text x="652" y="148.7" class="t" textLength="21.6" lengthAdjust="spacingAndGlyphs">Self</text><text x="652" y="165.8" class="t" textLength="33.6" lengthAdjust="spacingAndGlyphs">Other</text></g>
</svg>
</body></html>
